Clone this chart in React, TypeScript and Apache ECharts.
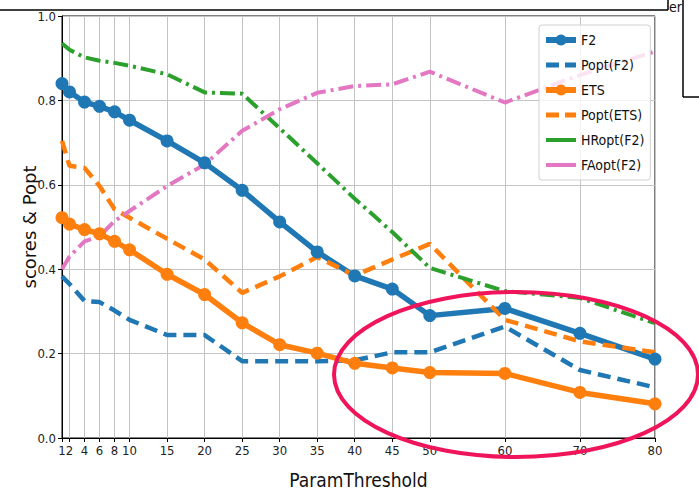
import React, { useEffect, useRef } from "react";
import * as echarts from "echarts";

const xValues = [1, 2, 4, 6, 8, 10, 15, 20, 25, 30, 35, 40, 45, 50, 60, 70, 80];
const f2 = [0.84, 0.82, 0.796, 0.786, 0.773, 0.753, 0.704, 0.652, 0.587, 0.512, 0.441, 0.384, 0.353, 0.29, 0.307, 0.248, 0.187];
const poptF2 = [0.383, 0.365, 0.325, 0.322, 0.302, 0.28, 0.244, 0.244, 0.182, 0.182, 0.182, 0.184, 0.203, 0.203, 0.264, 0.161, 0.12];
const ets = [0.522, 0.507, 0.494, 0.484, 0.466, 0.446, 0.388, 0.34, 0.273, 0.221, 0.201, 0.177, 0.166, 0.155, 0.153, 0.108, 0.081];
const poptEts = [0.704, 0.645, 0.64, 0.597, 0.542, 0.522, 0.472, 0.423, 0.344, 0.383, 0.429, 0.385, 0.423, 0.46, 0.28, 0.229, 0.203];
const hroptF2 = [0.935, 0.92, 0.902, 0.894, 0.889, 0.882, 0.862, 0.819, 0.816, 0.734, 0.651, 0.567, 0.488, 0.403, 0.348, 0.332, 0.272];
const faoptF2 = [0.4, 0.43, 0.466, 0.478, 0.514, 0.538, 0.597, 0.648, 0.728, 0.779, 0.818, 0.834, 0.838, 0.868, 0.795, 0.86, 0.916];

const seriesNames = ["F2", "Popt(F2)", "ETS", "Popt(ETS)", "HRopt(F2)", "FAopt(F2)"];

const COND = "'DejaVu Sans Condensed', 'Liberation Sans Narrow', 'DejaVu Sans', sans-serif";

export default function App() {
  const ref = useRef<HTMLDivElement>(null);
  useEffect(() => {
    if (!ref.current) return;
    const chart = echarts.init(ref.current, undefined, { renderer: "svg" });
    const pairs = (ys: number[]) => xValues.map((x, i) => [x, ys[i]]);
    const blue = "#1f77b4";
    const orange = "#ff7f0e";
    const green = "#2ca02c";
    const pink = "#e377c2";
    const dashDot = [15, 5, 3, 5];
    const option: any = {
      animation: false,
      backgroundColor: "#fff",
      grid: {
        left: 62,
        right: 44,
        top: 16,
        bottom: 57,
        show: true,
        borderColor: "#000",
        borderWidth: 1,
        backgroundColor: "transparent",
      },
      legend: {
        orient: "vertical",
        left: 539,
        top: 25,
        padding: [8, 6, 8, 4],
        itemWidth: 30,
        itemHeight: 14,
        itemGap: 11,
        backgroundColor: "rgba(255,255,255,0.8)",
        borderColor: "#d0d0d0",
        borderWidth: 1,
        borderRadius: 3,
        textStyle: { fontFamily: COND, fontSize: 14, color: "#111" },
        data: [
          { name: "F2", lineStyle: { width: 6 } },
          { name: "Popt(F2)", lineStyle: { width: 5, type: [13, 6] }, itemStyle: { opacity: 0 } },
          { name: "ETS", lineStyle: { width: 6 } },
          { name: "Popt(ETS)", lineStyle: { width: 5, type: [13, 6] }, itemStyle: { opacity: 0 } },
          { name: "HRopt(F2)", lineStyle: { width: 4, type: "solid" }, itemStyle: { opacity: 0 } },
          { name: "FAopt(F2)", lineStyle: { width: 4, type: "solid" }, itemStyle: { opacity: 0 } },
        ],
      },
      xAxis: {
        type: "value",
        min: 1,
        max: 80,
        name: "ParamThreshold",
        nameLocation: "middle",
        nameGap: 32,
        nameTextStyle: { fontFamily: COND, fontSize: 19, color: "#111" },
        axisLine: { show: true, lineStyle: { color: "#000", width: 1 } },
        axisTick: { show: true, length: 4, lineStyle: { color: "#000" }, customValues: xValues },
        axisLabel: {
          customValues: xValues,
          fontFamily: COND,
          fontSize: 13,
          color: "#222",
          margin: 6,
          hideOverlap: false,
        },
        splitLine: { show: true, lineStyle: { color: "#c4c4c4", width: 1 } },
      },
      yAxis: {
        type: "value",
        min: 0,
        max: 1,
        interval: 0.2,
        name: "scores & Popt",
        nameLocation: "middle",
        nameGap: 24,
        nameMoveOverlap: false,
        nameTextStyle: { fontFamily: "'DejaVu Sans', sans-serif", fontSize: 18, color: "#111" },
        axisLine: { show: true, lineStyle: { color: "#000", width: 1 } },
        axisTick: { show: true, length: 4, lineStyle: { color: "#000" } },
        axisLabel: {
          fontFamily: COND,
          fontSize: 13,
          color: "#222",
          margin: 6,
          formatter: (v: number) => v.toFixed(1),
        },
        splitLine: { show: true, lineStyle: { color: "#c4c4c4", width: 1 } },
      },
      series: [
        {
          name: seriesNames[0],
          type: "line",
          data: pairs(f2),
          color: blue,
          symbol: "circle",
          symbolSize: 13,
          lineStyle: { width: 5.5, color: blue },
          itemStyle: { color: blue },
        },
        {
          name: seriesNames[1],
          type: "line",
          data: pairs(poptF2),
          color: blue,
          symbol: "none",
          lineStyle: { width: 4.5, color: blue, type: [13, 7] },
        },
        {
          name: seriesNames[2],
          type: "line",
          data: pairs(ets),
          color: orange,
          symbol: "circle",
          symbolSize: 13,
          lineStyle: { width: 5.5, color: orange },
          itemStyle: { color: orange },
        },
        {
          name: seriesNames[3],
          type: "line",
          data: pairs(poptEts),
          color: orange,
          symbol: "none",
          lineStyle: { width: 4.5, color: orange, type: [13, 7] },
        },
        {
          name: seriesNames[4],
          type: "line",
          data: pairs(hroptF2),
          color: green,
          symbol: "none",
          lineStyle: { width: 4, color: green, type: dashDot },
        },
        {
          name: seriesNames[5],
          type: "line",
          data: pairs(faoptF2),
          color: pink,
          symbol: "none",
          lineStyle: { width: 4, color: pink, type: dashDot },
        },
      ],
      graphic: [
        {
          type: "ellipse",
          shape: { cx: 516, cy: 374.5, rx: 182, ry: 82.5 },
          style: { fill: "none", stroke: "#f0145a", lineWidth: 4 },
          z: 100,
        },
        {
          type: "line",
          shape: { x1: 0, y1: 10, x2: 668, y2: 10 },
          style: { stroke: "#000", lineWidth: 1.5 },
          z: 100,
        },
        {
          type: "line",
          shape: { x1: 668, y1: 0, x2: 668, y2: 10 },
          style: { stroke: "#000", lineWidth: 1.5 },
          z: 100,
        },
        {
          type: "text",
          x: 669,
          y: 0,
          style: { text: "er", fontFamily: COND, fontSize: 14, fill: "#111" },
          z: 100,
        },
        {
          type: "line",
          shape: { x1: 683, y1: 0, x2: 683, y2: 97 },
          style: { stroke: "#000", lineWidth: 1.5 },
          z: 100,
        },
        {
          type: "line",
          shape: { x1: 683, y1: 97, x2: 699, y2: 97 },
          style: { stroke: "#000", lineWidth: 1.5 },
          z: 100,
        },
      ],
    };
    chart.setOption(option);
    return () => chart.dispose();
  }, []);
  return <div ref={ref} style={{ width: 699, height: 495, position: "absolute", left: 0, top: 0 }} />;
}
